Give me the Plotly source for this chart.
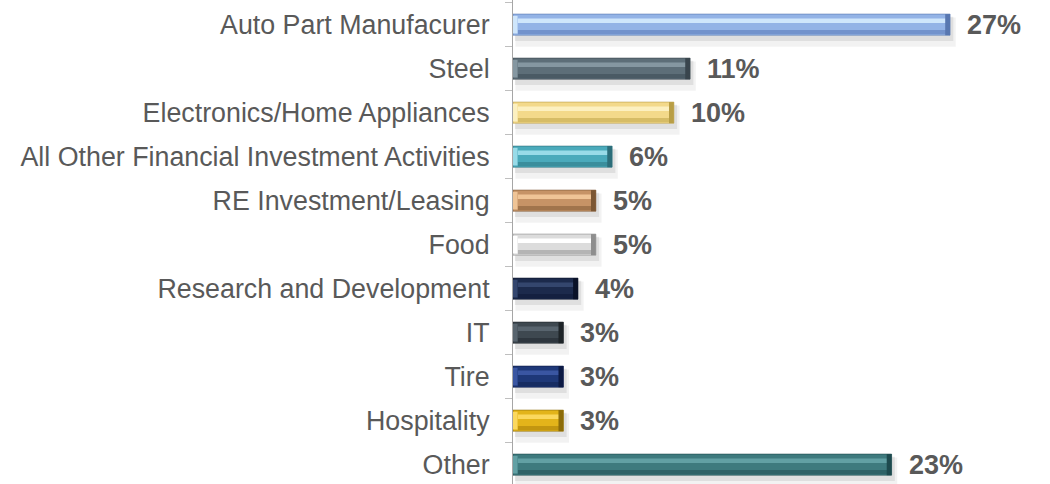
import numpy as np
import plotly.graph_objects as go

categories = ["Auto Part Manufacurer", "Steel", "Electronics/Home Appliances",
              "All Other Financial Investment Activities", "RE Investment/Leasing",
              "Food", "Research and Development", "IT", "Tire", "Hospitality", "Other"]
values = [26.9, 10.9, 9.9, 6.1, 5.1, 5.1, 4.0, 3.1, 3.1, 3.1, 23.3]
value_labels = ["27%", "11%", "10%", "6%", "5%", "5%", "4%", "3%", "3%", "3%", "23%"]

main_colors = ["#93b3e6", "#5d6e78", "#f3d98a", "#4aaabb", "#c69366", "#dcdcdc",
               "#1c2a4c", "#3e4850", "#1e3878", "#e3b41a", "#3e7a7e"]
light_colors = ["#cfe6fb", "#8597a1", "#fcf0c0", "#98dbe8", "#efc496", "#ffffff",
                "#34466e", "#58646e", "#3a56a2", "#fbd85e", "#62a0a4"]
band_colors = ["#7393cc", "#4a5a64", "#d6bc66", "#3a8e9c", "#a0744c", "#b4b4b4",
               "#142040", "#2e363e", "#162c62", "#c29610", "#2e6266"]
dark_colors = ["#5877b0", "#39454d", "#b89e46", "#2c6e7a", "#7c5734", "#8e8e8e",
               "#0a1228", "#1e2428", "#0c1a44", "#8c6c0a", "#1e4a4e"]

v = np.array(values)
fig = go.Figure()

def layer(x, base, color, offset, width, line=None):
    fig.add_trace(go.Bar(
        y=categories, x=x, base=base, orientation="h",
        offset=offset, width=width,
        marker=dict(color=color, line=line or dict(width=0)),
        hoverinfo="skip", showlegend=False))

# soft shadow
layer(v + 0.20, 0.15, "rgba(0,0,0,0.05)", -0.16, 0.66)
layer(v + 0.08, 0.12, "rgba(0,0,0,0.08)", -0.18, 0.55)
# main body
layer(v, 0, main_colors, -0.24, 0.48, dict(color=dark_colors, width=0.6))
# highlight band
layer(v - 0.5, 0.3, light_colors, -0.14, 0.10)
# lower darker band
layer(v - 0.5, 0.3, band_colors, 0.12, 0.10)
# right bevel cap
layer(np.full(len(v), 0.30), v - 0.30, dark_colors, -0.24, 0.48)
# left bevel cap
layer(np.full(len(v), 0.28), 0, light_colors, -0.20, 0.40)

for c, val, lab in zip(categories, values, value_labels):
    fig.add_annotation(x=val, y=c, text=lab, showarrow=False, xanchor="left",
                       xshift=15, yshift=0,
                       font=dict(family="Liberation Sans, Arial", size=27, color="#595959",
                                 weight="bold"))

fig.update_layout(
    width=1050, height=484,
    barmode="overlay",
    margin=dict(l=513, r=0, t=0, b=0, autoexpand=False),
    paper_bgcolor="white", plot_bgcolor="white",
    font=dict(family="Liberation Sans, Arial", color="#595959"),
    xaxis=dict(visible=False, range=[0, 33.05], automargin=False),
    yaxis=dict(type="category", categoryorder="array", categoryarray=categories,
               range=[10.44, -0.56], showline=True, linecolor="#a6a6a6", linewidth=1,
               ticks="outside", tickson="boundaries", ticklen=7, tickcolor="#bfbfbf",
               tickfont=dict(size=26.8, color="#595959"), ticklabelstandoff=17,
               showgrid=False, zeroline=False, automargin=False),
)

fig.write_html("out.html", config={"displayModeBar": False},
               post_script="document.body.style.margin='0';document.body.style.overflow='hidden';")
